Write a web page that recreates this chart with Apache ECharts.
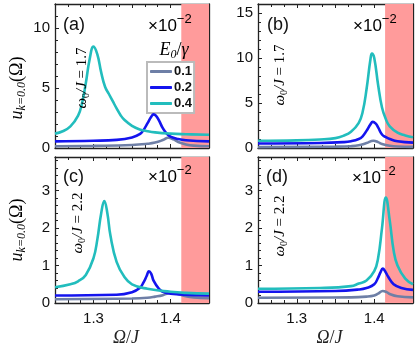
<!DOCTYPE html>
<html>
<head>
<meta charset="utf-8">
<script src="https://cdn.jsdelivr.net/npm/echarts@6/dist/echarts.min.js"></script>
<style>
  html, body { margin: 0; padding: 0; background: #fff; }
  #main { width: 415px; height: 348px; }
</style>
</head>
<body>
<div id="main"></div>
<script>
// E0/gamma = 0.1, 0.2, 0.4 ; points are [Omega/J, u x 1e2]
var seriesNames = ['0.1', '0.2', '0.4'];
var colors = ['#6e7fa6', '#1414ee', '#22bdbd'];
var edge = 1.414; // pink band start

// (a) omega0/J = 1.7
var a01 = [[1.25,0.15],[1.30,0.18],[1.35,0.25],[1.37,0.35],[1.38,0.45],[1.39,0.66],[1.397,0.86],[1.404,0.72],[1.41,0.5],[1.42,0.3],[1.43,0.2],[1.45,0.15]];
var a02 = [[1.25,0.55],[1.30,0.6],[1.33,0.68],[1.35,0.88],[1.36,1.15],[1.365,1.5],[1.37,2.05],[1.375,2.6],[1.378,2.8],[1.381,2.7],[1.385,2.3],[1.39,1.65],[1.395,1.2],[1.40,0.95],[1.41,0.75],[1.42,0.65],[1.45,0.55]];
var a04 = [[1.25,1.2],[1.26,1.4],[1.27,1.8],[1.28,2.7],[1.285,3.7],[1.29,5.4],[1.295,7.4],[1.300,8.45],[1.305,7.8],[1.31,6.3],[1.315,5.1],[1.32,4.5],[1.325,3.9],[1.33,3.3],[1.335,2.75],[1.34,2.35],[1.35,1.85],[1.36,1.55],[1.37,1.4],[1.38,1.3],[1.40,1.2],[1.42,1.15],[1.45,1.1]];

// (b) omega0/J = 1.7
var b01 = [[1.25,0.1],[1.35,0.15],[1.37,0.2],[1.38,0.3],[1.39,0.55],[1.399,0.8],[1.405,0.65],[1.41,0.45],[1.42,0.25],[1.43,0.16],[1.45,0.12]];
var b02 = [[1.25,0.5],[1.33,0.55],[1.36,0.65],[1.37,0.75],[1.38,1.0],[1.385,1.3],[1.39,1.9],[1.395,2.6],[1.398,2.9],[1.402,2.7],[1.405,2.3],[1.41,1.5],[1.415,1.2],[1.42,1.0],[1.43,0.75],[1.45,0.6]];
var b04 = [[1.25,0.8],[1.30,0.85],[1.33,0.95],[1.35,1.1],[1.36,1.35],[1.37,1.8],[1.38,2.8],[1.385,4.0],[1.39,6.5],[1.395,9.8],[1.397,10.5],[1.40,10.0],[1.405,7.0],[1.41,4.5],[1.415,3.2],[1.42,2.4],[1.43,1.7],[1.44,1.4],[1.45,1.2]];

// (c) omega0/J = 2.2
var c01 = [[1.25,0.1],[1.35,0.12],[1.37,0.14],[1.38,0.17],[1.39,0.21],[1.395,0.25],[1.402,0.28],[1.41,0.24],[1.42,0.18],[1.43,0.15],[1.45,0.13]];
var c02 = [[1.25,0.2],[1.33,0.22],[1.35,0.29],[1.36,0.4],[1.365,0.55],[1.369,0.72],[1.372,0.85],[1.375,0.78],[1.378,0.6],[1.385,0.38],[1.39,0.3],[1.40,0.25],[1.45,0.2]];
var c04 = [[1.25,0.42],[1.27,0.5],[1.28,0.58],[1.29,0.75],[1.30,1.2],[1.305,1.7],[1.31,2.4],[1.314,2.72],[1.318,2.4],[1.322,1.8],[1.33,1.1],[1.34,0.7],[1.35,0.5],[1.37,0.38],[1.40,0.3],[1.42,0.27],[1.45,0.25]];

// (d) omega0/J = 2.2
var d01 = [[1.25,0.14],[1.37,0.15],[1.39,0.17],[1.40,0.2],[1.405,0.25],[1.411,0.32],[1.416,0.29],[1.42,0.24],[1.43,0.18],[1.45,0.15]];
var d02 = [[1.25,0.3],[1.35,0.32],[1.38,0.36],[1.39,0.4],[1.40,0.5],[1.405,0.68],[1.408,0.82],[1.411,0.92],[1.414,0.85],[1.418,0.7],[1.425,0.5],[1.435,0.4],[1.45,0.35]];
var d04 = [[1.25,0.38],[1.33,0.4],[1.37,0.45],[1.38,0.52],[1.39,0.6],[1.40,0.85],[1.405,1.2],[1.41,2.0],[1.415,2.82],[1.42,2.2],[1.425,1.4],[1.43,1.0],[1.44,0.65],[1.45,0.5]];

var panels = [[a01, a02, a04], [b01, b02, b04], [c01, c02, c04], [d01, d02, d04]];
var yMax = [12, 16, 3.9, 3.9];
var yStep = [5, 5, 1, 1];

var grids = [
  { left: 55, top: 4, width: 154, height: 144 },
  { left: 258, top: 4, width: 155, height: 144 },
  { left: 55, top: 157, width: 154, height: 146 },
  { left: 258, top: 157, width: 155, height: 146 }
];

var sans = 'Liberation Sans';
var serif = 'Liberation Serif';

var xAxes = [], yAxes = [], series = [];
panels.forEach(function (p, i) {
  var bottom = i >= 2;
  var tickCommon = {
    axisLine: { show: true, onZero: false, lineStyle: { color: '#222', width: 1.3 } },
    axisTick: { show: true, inside: true, length: 4, lineStyle: { color: '#222' } },
    minorTick: { show: true, splitNumber: 3, length: 3, lineStyle: { color: '#222' } },
    splitLine: { show: false }
  };
  xAxes.push(Object.assign({
    type: 'value', gridIndex: i, min: 1.25, max: 1.45, interval: 0.05, position: 'bottom',
    axisLabel: {
      show: bottom, fontFamily: sans, fontSize: 15, color: '#111', margin: 8,
      showMinLabel: false, showMaxLabel: false,
      formatter: function (v) {
        if (Math.abs(v - 1.3) < 1e-6) return '1.3';
        if (Math.abs(v - 1.4) < 1e-6) return '1.4';
        return '';
      }
    },
    name: bottom ? '{i|Ω}{n|/}{i|J}' : '',
    nameLocation: 'middle', nameGap: 26,
    nameTextStyle: {
      padding: [0, 12, 0, 0],
      rich: { i: { fontFamily: serif, fontSize: 18, fontStyle: 'italic', color: '#222' },
              n: { fontFamily: serif, fontSize: 18, color: '#222' } }
    }
  }, tickCommon));
  xAxes.push(Object.assign({
    type: 'value', gridIndex: i, min: 1.25, max: 1.45, interval: 0.05, position: 'top',
    axisLabel: { show: false }
  }, tickCommon));

  var yTick = Object.assign({}, tickCommon, {
    minorTick: { show: true, splitNumber: 5, length: 3, lineStyle: { color: '#222' } }
  });
  yAxes.push(Object.assign({
    type: 'value', gridIndex: i, min: 0, max: yMax[i], interval: yStep[i], position: 'left',
    axisLabel: { fontFamily: sans, fontSize: 15, color: '#111', margin: 5, showMaxLabel: false }
  }, yTick));
  yAxes.push(Object.assign({
    type: 'value', gridIndex: i, min: 0, max: yMax[i], interval: yStep[i], position: 'right',
    axisLabel: { show: false }
  }, yTick));

  // pink band beyond the edge
  series.push({
    type: 'line', xAxisIndex: 2 * i, yAxisIndex: 2 * i, data: [], z: 1, silent: true,
    markArea: {
      silent: true,
      itemStyle: { color: '#ff9b9b', opacity: 1 },
      data: [[{ xAxis: edge }, { xAxis: 1.45 }]]
    }
  });
  p.forEach(function (d, k) {
    series.push({
      name: seriesNames[k], type: 'line', xAxisIndex: 2 * i, yAxisIndex: 2 * i,
      data: d, showSymbol: false, smooth: 0.45, z: 3 + k,
      lineStyle: { color: colors[k], width: 2.6 }, itemStyle: { color: colors[k] }
    });
  });
});

var richSub = {
  i: { fontFamily: serif, fontSize: 18, fontStyle: 'italic', color: '#222', lineHeight: 22, verticalAlign: 'middle' },
  n: { fontFamily: serif, fontSize: 18, color: '#222', lineHeight: 22, verticalAlign: 'middle' },
  s: { fontFamily: serif, fontSize: 12, fontStyle: 'italic', color: '#222', lineHeight: 12, verticalAlign: 'bottom' }
};
var richW = {
  i: { fontFamily: serif, fontSize: 15, fontStyle: 'italic', color: '#888', lineHeight: 18, verticalAlign: 'middle' },
  n: { fontFamily: serif, fontSize: 15, color: '#888', lineHeight: 18, verticalAlign: 'middle' },
  s: { fontFamily: serif, fontSize: 10, color: '#888', lineHeight: 10, verticalAlign: 'bottom' }
};
var richExp = {
  n: { fontFamily: sans, fontSize: 17, color: '#222', lineHeight: 22, verticalAlign: 'bottom' },
  p: { fontFamily: sans, fontSize: 13, color: '#222', lineHeight: 13, verticalAlign: 'top' }
};

function txt(x, y, text, rich, rot, align) {
  return {
    type: 'text', x: x, y: y, rotation: rot || 0, z: 100,
    style: { text: text, rich: rich, align: align || 'center', verticalAlign: 'middle' }
  };
}

var labelPos = [[63, 25, '(a)'], [267, 25, '(b)'], [63, 177, '(c)'], [266, 177, '(d)']];
var expPos = [[148, 24], [353, 24], [148, 175], [352, 176]];
var omegaPos = [[82, 78, '1.7'], [280, 75, '1.7'], [78, 223, '2.2'], [280, 226, '2.2']];

var graphics = [];
labelPos.forEach(function (l) {
  graphics.push({ type: 'text', x: l[0], y: l[1], z: 100,
    style: { text: l[2], fontFamily: sans, fontSize: 18, fill: '#111', align: 'left', verticalAlign: 'middle' } });
});
expPos.forEach(function (e) {
  graphics.push(txt(e[0], e[1], '{n|×10}{p|−2}', richExp, 0, 'left'));
});
omegaPos.forEach(function (o) {
  graphics.push(txt(o[0], o[1], '{i|ω}{s|0}{i|/J}{n| = ' + o[2] + '}', richW, Math.PI / 2));
});
graphics.push(txt(17, 88, '{i|u}{s|k=0.0}{n|(Ω)}', richSub, Math.PI / 2));
graphics.push(txt(17, 230, '{i|u}{s|k=0.0}{n|(Ω)}', richSub, Math.PI / 2));
graphics.push(txt(174, 50, '{i|E}{s|0}{n|/}{i|γ}', richSub, 0));

var chart = echarts.init(document.getElementById('main'), null, { renderer: 'canvas' });
chart.setOption({
  animation: false,
  backgroundColor: '#fff',
  grid: grids,
  xAxis: xAxes,
  yAxis: yAxes,
  legend: {
    data: seriesNames, orient: 'vertical', left: 147, top: 62,
    icon: 'roundRect', itemWidth: 22, itemHeight: 3, itemGap: 3,
    backgroundColor: '#fff', borderColor: '#bbb', borderWidth: 2,
    padding: [3, 2, 3, 3], selectedMode: false,
    textStyle: { fontFamily: sans, fontSize: 13, fontWeight: 'bold', color: '#111', padding: [0, 0, 0, -3] }
  },
  graphic: graphics,
  series: series
});
</script>
</body>
</html>
